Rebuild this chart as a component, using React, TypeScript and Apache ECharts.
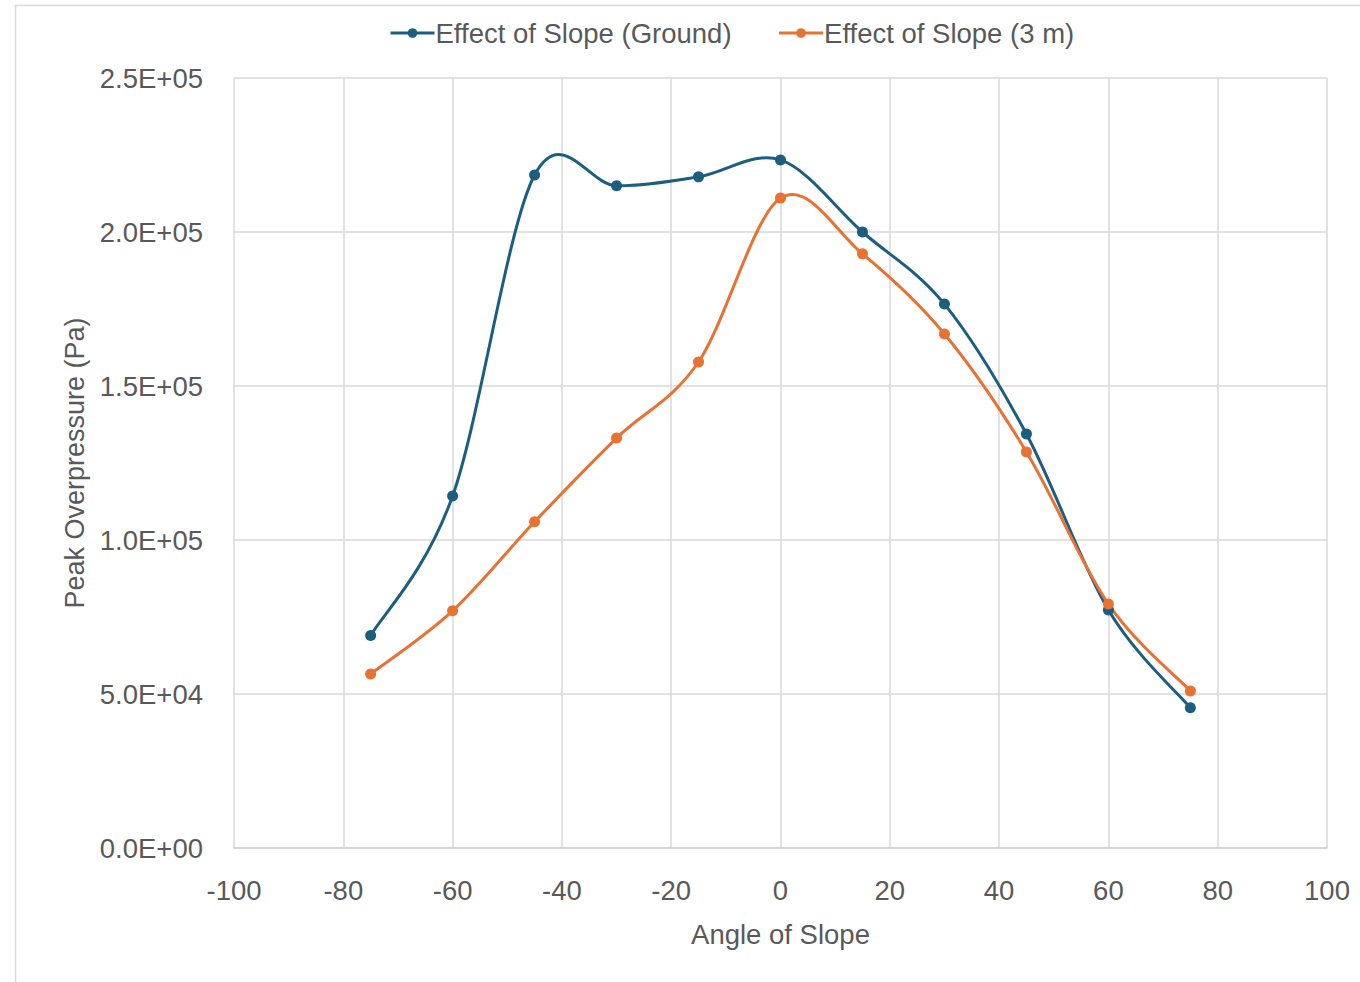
import React, { useEffect, useRef } from "react";
import * as echarts from "echarts";

const angles = [-75, -60, -45, -30, -15, 0, 15, 30, 45, 60, 75];
const groundValues = [69000, 114300, 218500, 215000, 217900, 223400, 200000, 176600, 134400, 77300, 45500];
const threeMValues = [56500, 77000, 105900, 133100, 157800, 211000, 192900, 166900, 128600, 79200, 51000];
const seriesNames = ["Effect of Slope (Ground)", "Effect of Slope (3 m)"];
const colors = ["#1B5E80", "#E97132"];

const FONT = "'Liberation Sans', Arial, sans-serif";
const TEXT = "#595959";

function sci(v: number): string {
  if (v === 0) return "0.0E+00";
  const e = Math.floor(Math.log10(Math.abs(v)));
  const m = v / Math.pow(10, e);
  return m.toFixed(1) + "E" + (e >= 0 ? "+" : "-") + String(Math.abs(e)).padStart(2, "0");
}

// Excel-like smoothed curve (Catmull-Rom as cubic Bezier), computed in pixel space via the axes
function splineSeries(name: string, vals: number[], color: string) {
  return {
    name,
    type: "custom",
    z: 2,
    silent: true,
    data: angles.map((a, i) => [a, vals[i]]),
    renderItem: (params: any, api: any) => {
      if (params.dataIndex !== 0) return null;
      const p = angles.map((a, i) => api.coord([a, vals[i]]));
      let d = `M ${p[0][0]} ${p[0][1]}`;
      for (let i = 0; i < p.length - 1; i++) {
        const p0 = p[Math.max(0, i - 1)];
        const p1 = p[i];
        const p2 = p[i + 1];
        const p3 = p[Math.min(p.length - 1, i + 2)];
        const c1x = p1[0] + (p2[0] - p0[0]) / 6;
        const c1y = p1[1] + (p2[1] - p0[1]) / 6;
        const c2x = p2[0] - (p3[0] - p1[0]) / 6;
        const c2y = p2[1] - (p3[1] - p1[1]) / 6;
        d += ` C ${c1x} ${c1y} ${c2x} ${c2y} ${p2[0]} ${p2[1]}`;
      }
      return {
        type: "path",
        shape: { pathData: d },
        style: { fill: "none", stroke: color, lineWidth: 3 },
      };
    },
  };
}

export default function App() {
  const ref = useRef<HTMLDivElement>(null);
  useEffect(() => {
    if (!ref.current) return;
    const chart = echarts.init(ref.current, undefined, { renderer: "svg" });
    const mk = (vals: number[]) => angles.map((a, i) => [a, vals[i]]);
    chart.setOption({
      animation: false,
      backgroundColor: "#ffffff",
      graphic: [
        {
          type: "rect",
          shape: { x: 15.5, y: 5.5, width: 1400, height: 1000 },
          style: { fill: "none", stroke: "#d9d9d9", lineWidth: 1.5 },
          silent: true,
        },
      ],
      legend: {
        top: 14,
        left: 384,
        itemWidth: 44,
        itemHeight: 12,
        itemGap: 46,
        textStyle: { fontFamily: FONT, fontSize: 27.5, color: TEXT, padding: [0, 0, 0, -4] },
        data: seriesNames.map((n, i) => ({
          name: n,
          lineStyle: { color: colors[i], width: 3, opacity: 1 },
        })),
      },
      grid: { left: 234, right: 33, top: 78, bottom: 134 },
      xAxis: {
        type: "value",
        min: -100,
        max: 100,
        interval: 20,
        name: "Angle of Slope",
        nameLocation: "middle",
        nameGap: 72,
        nameTextStyle: { fontFamily: FONT, fontSize: 27.5, color: TEXT },
        axisLine: { show: true, lineStyle: { color: "#d0d0d0", width: 1.5 } },
        axisTick: { show: false },
        axisLabel: { fontFamily: FONT, fontSize: 27.5, color: TEXT, margin: 28 },
        splitLine: { show: true, lineStyle: { color: "#d9d9d9", width: 1.5 } },
      },
      yAxis: {
        type: "value",
        min: 0,
        max: 250000,
        interval: 50000,
        name: "Peak Overpressure (Pa)",
        nameLocation: "middle",
        nameGap: 145,
        nameTextStyle: { fontFamily: FONT, fontSize: 27, color: TEXT },
        axisLine: { show: false },
        axisTick: { show: false },
        axisLabel: { fontFamily: FONT, fontSize: 27.5, color: TEXT, margin: 31, formatter: (v: number) => sci(v) },
        splitLine: { show: true, lineStyle: { color: "#d9d9d9", width: 1.5 } },
      },
      series: [
        splineSeries("curve-ground", groundValues, colors[0]),
        splineSeries("curve-3m", threeMValues, colors[1]),
        {
          name: seriesNames[0],
          type: "line",
          z: 3,
          data: mk(groundValues),
          symbol: "circle",
          symbolSize: 11,
          itemStyle: { color: colors[0] },
          lineStyle: { color: colors[0], width: 3, opacity: 0 },
        },
        {
          name: seriesNames[1],
          type: "line",
          z: 3,
          data: mk(threeMValues),
          symbol: "circle",
          symbolSize: 11,
          itemStyle: { color: colors[1] },
          lineStyle: { color: colors[1], width: 3, opacity: 0 },
        },
      ],
    });
    return () => chart.dispose();
  }, []);
  return (
    <div
      ref={ref}
      style={{ position: "fixed", left: 0, top: 0, width: 1360, height: 982 }}
    />
  );
}
